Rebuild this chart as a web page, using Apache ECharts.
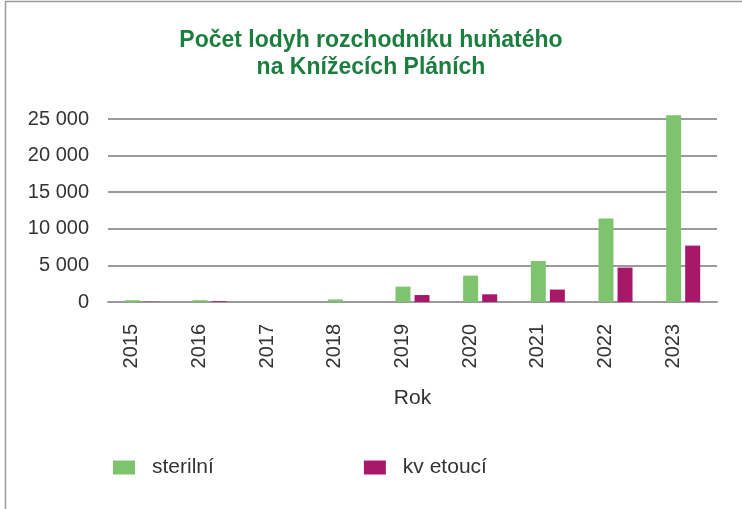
<!DOCTYPE html>
<html>
<head>
<meta charset="utf-8">
<script src="https://cdn.jsdelivr.net/npm/echarts@6/dist/echarts.min.js"></script>
<style>
  html, body { margin: 0; padding: 0; background: #fff; }
  #chart { width: 742px; height: 509px; }
</style>
</head>
<body>
<div id="chart"></div>
<script>
// data
const years = ['2015', '2016', '2017', '2018', '2019', '2020', '2021', '2022', '2023'];
const sterilni = [250, 250, 0, 350, 2100, 3600, 5600, 11400, 25500];
const kvetouci = [30, 100, 0, 0, 950, 1050, 1700, 4700, 7700];
const yTicks = [0, 5000, 10000, 15000, 20000, 25000];

const font = 'Liberation Sans, Arial, sans-serif';
const chart = echarts.init(document.getElementById('chart'));

chart.setOption({
  animation: false,
  title: {
    text: 'Počet lodyh rozchodníku huňatého\nna Knížecích Pláních',
    left: 'center',
    top: 22,
    textStyle: {
      color: '#1b7d3e',
      fontFamily: font,
      fontWeight: 'bold',
      fontSize: 23,
      lineHeight: 27,
    },
  },
  graphic: [
    {
      type: 'polyline',
      shape: { points: [[5.5, 509], [5.5, 1.5], [742, 1.5]] },
      style: { stroke: '#9a9a9a', lineWidth: 1.5, fill: null },
    },
  ],
  legend: {
    left: 108,
    top: 452,
    itemWidth: 22,
    itemHeight: 14,
    itemGap: 150,
    icon: 'rect',
    textStyle: { color: '#333', fontSize: 21, fontFamily: font, padding: [0, 0, 0, 12] },
    data: ['sterilní', 'kv etoucí'],
  },
  grid: { left: 108, right: 25, top: 119, bottom: 207 },
  xAxis: {
    type: 'category',
    data: years,
    name: 'Rok',
    nameLocation: 'middle',
    nameGap: 86,
    nameTextStyle: { color: '#333', fontSize: 21, fontFamily: font },
    axisLine: { show: true, lineStyle: { color: '#9a9a9a', width: 2 } },
    axisTick: { show: false },
    axisLabel: {
      rotate: 90,
      margin: 22,
      color: '#333',
      fontSize: 20,
      lineHeight: 20,
      fontFamily: font,
      // empty second line nudges the rotated label left, under the green bar
      formatter: (v) => v + '\n ',
    },
  },
  yAxis: {
    type: 'value',
    min: yTicks[0],
    max: yTicks[yTicks.length - 1],
    interval: 5000,
    axisLine: { show: false },
    axisTick: { show: false },
    axisLabel: {
      margin: 19,
      color: '#333',
      fontSize: 20,
      fontFamily: font,
      formatter: (v) => String(v).replace(/\B(?=(\d{3})+(?!\d))/g, ' '),
    },
    splitLine: { lineStyle: { color: '#9a9a9a', width: 2 } },
  },
  series: [
    {
      name: 'sterilní',
      type: 'bar',
      data: sterilni,
      barWidth: 15,
      barGap: '27%',
      clip: false,
      itemStyle: { color: '#7ec46e' },
    },
    {
      name: 'kv etoucí',
      type: 'bar',
      data: kvetouci,
      barWidth: 15,
      clip: false,
      itemStyle: { color: '#a8186a' },
    },
  ],
});
</script>
</body>
</html>
